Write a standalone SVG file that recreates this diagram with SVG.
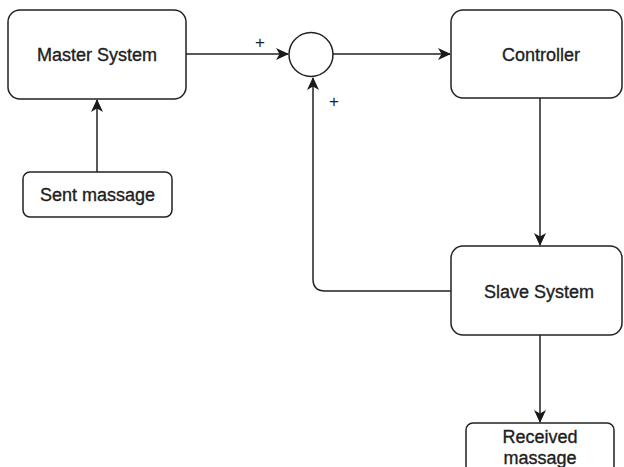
<svg xmlns="http://www.w3.org/2000/svg" width="624" height="467" viewBox="0 0 624 467">
<style>
.box{fill:#fff;stroke:#222;stroke-width:1.5}
.lbl{font-family:"Liberation Sans",Arial,sans-serif;font-size:18px;fill:#1e1e1e;stroke:#1e1e1e;stroke-width:0.35;text-anchor:middle;dominant-baseline:central}
.sign{font-family:"Liberation Sans",Arial,sans-serif;font-size:17px;fill:#1e1e1e;text-anchor:middle;dominant-baseline:central}
.edge{fill:none;stroke:#222;stroke-width:1.5}
</style>
<defs>
<marker id="arr" viewBox="0 0 13 12" refX="12" refY="6" markerWidth="13" markerHeight="12" markerUnits="userSpaceOnUse" orient="auto">
<path d="M0,0 L13,6 L0,12 L3.5,6 Z" fill="#1a1a1a"/>
</marker>
</defs>
<rect width="624" height="467" fill="#fff"/>
<g id="connectors">
<path class="edge" d="M97,172 V100" marker-end="url(#arr)"/>
<path class="edge" d="M186,54 H288" marker-end="url(#arr)"/>
<path class="edge" d="M333,54 H450" marker-end="url(#arr)"/>
<path class="edge" d="M540,98 V245" marker-end="url(#arr)"/>
<path class="edge" d="M451,291 H325 Q313,291 313,279 V78" marker-end="url(#arr)"/>
<path class="edge" d="M540,335 V422" marker-end="url(#arr)"/>
<text class="sign" x="260" y="42">+</text>
<text class="sign" x="334" y="101">+</text>
</g>
<g id="master">
<rect class="box" x="8" y="10" width="178" height="89" rx="12"/>
<text class="lbl" x="97" y="55">Master System</text>
</g>
<g id="sent">
<rect class="box" x="23" y="172" width="149" height="45" rx="7"/>
<text class="lbl" x="97.5" y="195">Sent massage</text>
</g>
<g id="sum">
<circle class="box" cx="311" cy="54.5" r="22"/>
</g>
<g id="controller">
<rect class="box" x="451" y="10" width="171" height="88" rx="12"/>
<text class="lbl" x="541" y="55">Controller</text>
</g>
<g id="slave">
<rect class="box" x="451" y="246" width="171" height="89" rx="12"/>
<text class="lbl" x="539" y="292">Slave System</text>
</g>
<g id="received">
<rect class="box" x="466" y="423" width="148" height="50" rx="7"/>
<text class="lbl" x="540" y="437">Received</text>
<text class="lbl" x="540" y="458">massage</text>
</g>
</svg>
